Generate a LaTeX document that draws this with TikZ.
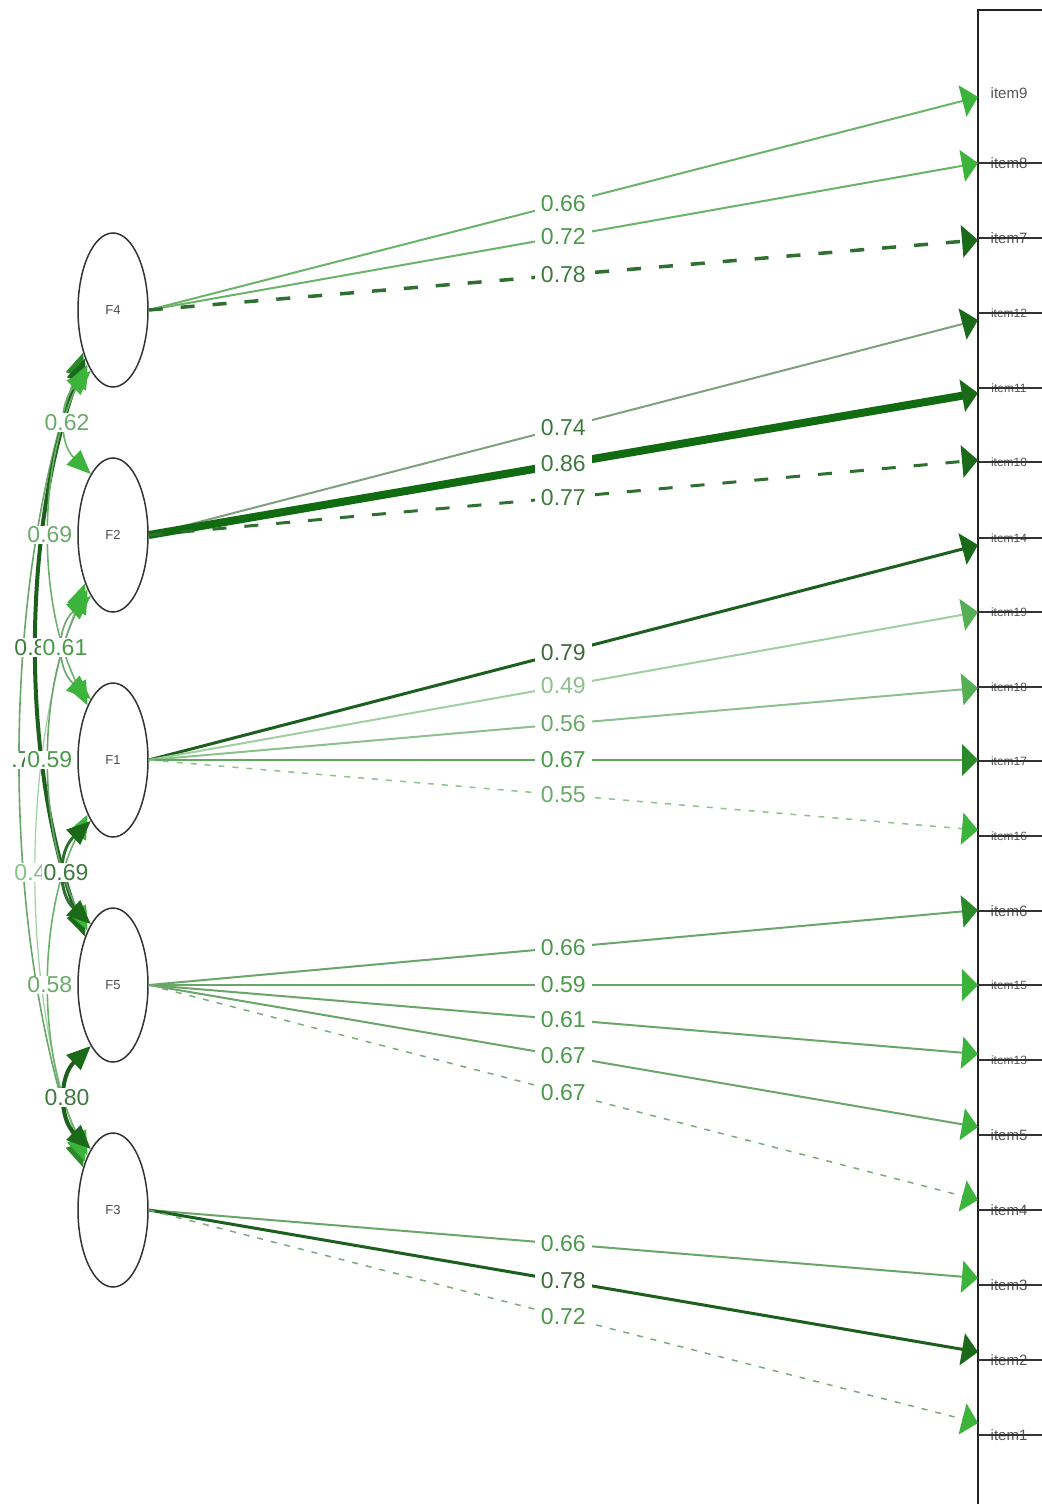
\documentclass[tikz,border=0pt]{standalone}
\usepackage{fontspec}
\setmainfont{Liberation Sans}
\usetikzlibrary{arrows.meta,shapes.geometric}
\definecolor{tipbright}{HTML}{3CB43C}
\definecolor{tipmid}{HTML}{55B055}
\definecolor{tipdark}{HTML}{1A6A1A}
\definecolor{tipgreen}{HTML}{2A8A2A}
\definecolor{lnlight}{HTML}{6AB46A}
\definecolor{lnmid}{HTML}{6AA66A}
\definecolor{lngray}{HTML}{7F9F7F}
\definecolor{lndark}{HTML}{1D5F1D}
\definecolor{lnthick}{HTML}{116B11}
\definecolor{lndash}{HTML}{2F6F2F}
\definecolor{lnpale}{HTML}{A0D0A0}
\definecolor{lnpale2}{HTML}{8CC08C}
\definecolor{lnmed}{HTML}{5FA95F}
\definecolor{lndot}{HTML}{90C090}
\definecolor{lndot2}{HTML}{80A880}
\definecolor{labgreen}{HTML}{4A9A4A}
\definecolor{labdark}{HTML}{3E7A3E}
\definecolor{labdarker}{HTML}{3E6A3E}
\definecolor{lablight}{HTML}{6AAA6A}
\definecolor{labpale}{HTML}{8CC08C}
\definecolor{itemtext}{HTML}{555555}
\definecolor{boxline}{HTML}{222222}
\tikzset{
  lat/.style={ellipse, draw=black!80, line width=0.75pt, fill=white,
    minimum width=35pt, minimum height=77pt, inner sep=0pt,
    font=\fontsize{6.5}{7}\selectfont, text=black!70},
  lab/.style={fill=white, inner xsep=3pt, inner ysep=0.5pt,
    font=\fontsize{11.5}{12}\selectfont},
  clab/.style={fill=white, inner xsep=1pt, inner ysep=0.5pt,
    font=\fontsize{11.5}{12}\selectfont},
  itm/.style={font=\fontsize{7.5}{8}\selectfont, text=itemtext, inner sep=0pt},
  itms/.style={font=\fontsize{6}{6.5}\selectfont, text=itemtext, inner sep=0pt},
  ld/.style n args={3}{line width=#1, draw=#2,
    -{Triangle[length=8pt,width=16pt,color=#3]}},
  cv/.style n args={3}{line width=#1, draw=#2,
    {Triangle[length=12pt,width=10pt,color=#3]}-{Triangle[length=12pt,width=10pt,color=#3]}},
  bigdash/.style={dash pattern=on 7pt off 9pt},
  smalldash/.style={dash pattern=on 3pt off 4pt},
  itemline/.style={draw=black!80, line width=0.8pt}
}
\begin{document}
\begin{tikzpicture}[x=0.5pt,y=-0.5pt]
\useasboundingbox (0,0) rectangle (1042,1504);
\fill[white] (0,0) rectangle (1042,1504);
\begin{scope}
\clip (12,0) rectangle (1042,1504);

% right box
\draw[boxline, line width=1pt] (1042,10) -- (978,10) -- (978,1504);

% item arrow targets
\coordinate (i9) at (978,97);
\coordinate (i8) at (978,163);
\coordinate (i7) at (978,240);
\coordinate (i12) at (978,320);
\coordinate (i11) at (978,393);
\coordinate (i10) at (978,460);
\coordinate (i14) at (978,545);
\coordinate (i19) at (978,612);
\coordinate (i18) at (978,688);
\coordinate (i17) at (978,760);
\coordinate (i16) at (978,830);
\coordinate (i6) at (978,910);
\coordinate (i15) at (978,985);
\coordinate (i13) at (978,1054);
\coordinate (i5) at (978,1127);
\coordinate (i4) at (978,1200);
\coordinate (i3) at (978,1278);
\coordinate (i2) at (978,1352);
\coordinate (i1) at (978,1423);

% item labels and lines
\node[itm] (t9) at (1009,93) {item9};
\foreach \nm/\yy/\st in {item8/163/itm, item7/238/itm, item12/313/itms, item11/388/itms,
  item10/462/itms, item14/538/itms, item19/612/itms, item18/687/itms, item17/761/itms,
  item16/836/itms, item6/911/itm, item15/985/itms, item13/1060/itms, item5/1135/itm,
  item4/1210/itm, item3/1285/itm, item2/1360/itm, item1/1435/itm}{
  \node[\st] (t\nm) at (1009,\yy) {\nm};
  \draw[itemline] (978,\yy) -- (1042,\yy);
}

% factors
\node[lat] (F4) at (113,310) {F4};
\node[lat] (F2) at (113,535) {F2};
\node[lat] (F1) at (113,760) {F1};
\node[lat] (F5) at (113,985) {F5};
\node[lat] (F3) at (113,1210) {F3};

% loadings F4
\draw[ld={1pt}{lnlight}{tipbright}] (F4.east) -- (i9) node[lab,pos=.5,text=labgreen]{0.66};
\draw[ld={1pt}{lnlight}{tipbright}] (F4.east) -- (i8) node[lab,pos=.5,text=labgreen]{0.72};
\draw[ld={1.75pt}{lndash}{tipdark},bigdash] (F4.east) -- (i7) node[lab,pos=.5,text=labdark]{0.78};
% loadings F2
\draw[ld={1pt}{lngray}{tipdark}] (F2.east) -- (i12) node[lab,pos=.5,text=labdark]{0.74};
\draw[ld={4pt}{lnthick}{tipdark}] (F2.east) -- (i11) node[lab,pos=.5,text=labdark]{0.86};
\draw[ld={1.5pt}{lndash}{tipdark},bigdash] (F2.east) -- (i10) node[lab,pos=.5,text=labdark]{0.77};
% loadings F1
\draw[ld={1.5pt}{lndark}{tipdark}] (F1.east) -- (i14) node[lab,pos=.5,text=labdarker]{0.79};
\draw[ld={1pt}{lnpale}{tipmid}] (F1.east) -- (i19) node[lab,pos=.5,text=labpale]{0.49};
\draw[ld={1pt}{lnpale2}{tipmid}] (F1.east) -- (i18) node[lab,pos=.5,text=lablight]{0.56};
\draw[ld={1pt}{lnmed}{tipgreen}] (F1.east) -- (i17) node[lab,pos=.5,text=labgreen]{0.67};
\draw[ld={0.75pt}{lndot}{tipbright},smalldash] (F1.east) -- (i16) node[lab,pos=.5,text=lablight]{0.55};
% loadings F5
\draw[ld={1pt}{lnmid}{tipgreen}] (F5.east) -- (i6) node[lab,pos=.5,text=labgreen]{0.66};
\draw[ld={1pt}{lnmid}{tipbright}] (F5.east) -- (i15) node[lab,pos=.5,text=labgreen]{0.59};
\draw[ld={1pt}{lnmid}{tipbright}] (F5.east) -- (i13) node[lab,pos=.5,text=labgreen]{0.61};
\draw[ld={1pt}{lnmid}{tipbright}] (F5.east) -- (i5) node[lab,pos=.5,text=labgreen]{0.67};
\draw[ld={0.75pt}{lndot2}{tipbright},smalldash] (F5.east) -- (i4) node[lab,pos=.5,text=labgreen]{0.67};
% loadings F3
\draw[ld={1pt}{lnmid}{tipbright}] (F3.east) -- (i3) node[lab,pos=.5,text=labgreen]{0.66};
\draw[ld={1.5pt}{lndark}{tipdark}] (F3.east) -- (i2) node[lab,pos=.5,text=labdarker]{0.78};
\draw[ld={0.75pt}{lndot2}{tipbright},smalldash] (F3.east) -- (i1) node[lab,pos=.5,text=labgreen]{0.72};

% covariances (curves)
\draw[cv={0.8pt}{lnmid}{tipgreen}] (F4.235) .. controls (0.1,597) and (0.1,923) .. (F3.125) coordinate[pos=.5] (m43);
\draw[cv={2pt}{lndark}{tipdark}] (F4.240) .. controls (20.8,531.6) and (20.8,763.4) .. (F5.120) coordinate[pos=.5] (m45);
\draw[cv={0.6pt}{lnpale}{tipbright}] (F2.240) .. controls (20.8,756.6) and (20.8,988.4) .. (F3.120) coordinate[pos=.5] (m23);
\draw[cv={0.8pt}{lnlight}{tipbright}] (F4.245) .. controls (37.3,466.6) and (37.3,603.4) .. (F1.115) coordinate[pos=.5] (m41);
\draw[cv={0.8pt}{lnmid}{tipbright}] (F2.245) .. controls (37.3,691.6) and (37.3,828.4) .. (F5.115) coordinate[pos=.5] (m25);
\draw[cv={0.8pt}{lnlight}{tipbright}] (F1.245) .. controls (37.3,916.6) and (37.3,1053.4) .. (F3.115) coordinate[pos=.5] (m13);
\draw[cv={0.8pt}{lnlight}{tipbright}] (F4.250) .. controls (59,401.5) and (59,443.5) .. (F2.110) coordinate[pos=.5] (m42);
\draw[cv={0.8pt}{lnmid}{tipbright}] (F2.250) .. controls (56.3,626.5) and (56.3,668.5) .. (F1.110) coordinate[pos=.5] (m21);
\draw[cv={1.5pt}{lndash}{tipdark}] (F1.250) .. controls (57.7,851.5) and (57.7,893.5) .. (F5.110) coordinate[pos=.5] (m15);
\draw[cv={2pt}{lndark}{tipdark}] (F5.250) .. controls (59,1076.5) and (59,1118.5) .. (F3.110) coordinate[pos=.5] (m53);

% covariance labels (wide spans first)
\node[clab,text=labdark] (c43) at (m43) {0.72};
\node[clab,text=labdark] (c45) at (m45) {0.80};
\node[clab,text=labpale] (c23) at (m23) {0.40};
\node[clab,text=lablight] (c41) at (m41) {0.69};
\node[clab,text=labgreen] (c25) at (m25) {0.59};
\node[clab,text=lablight] (c13) at (m13) {0.58};
\node[clab,text=lablight] (c42) at (m42) {0.62};
\node[clab,text=labgreen] (c21) at (m21) {0.61};
\node[clab,text=labdark] (c15) at (m15) {0.69};
\node[clab,text=labdark] (c53) at (m53) {0.80};
\end{scope}
\end{tikzpicture}
\end{document}
